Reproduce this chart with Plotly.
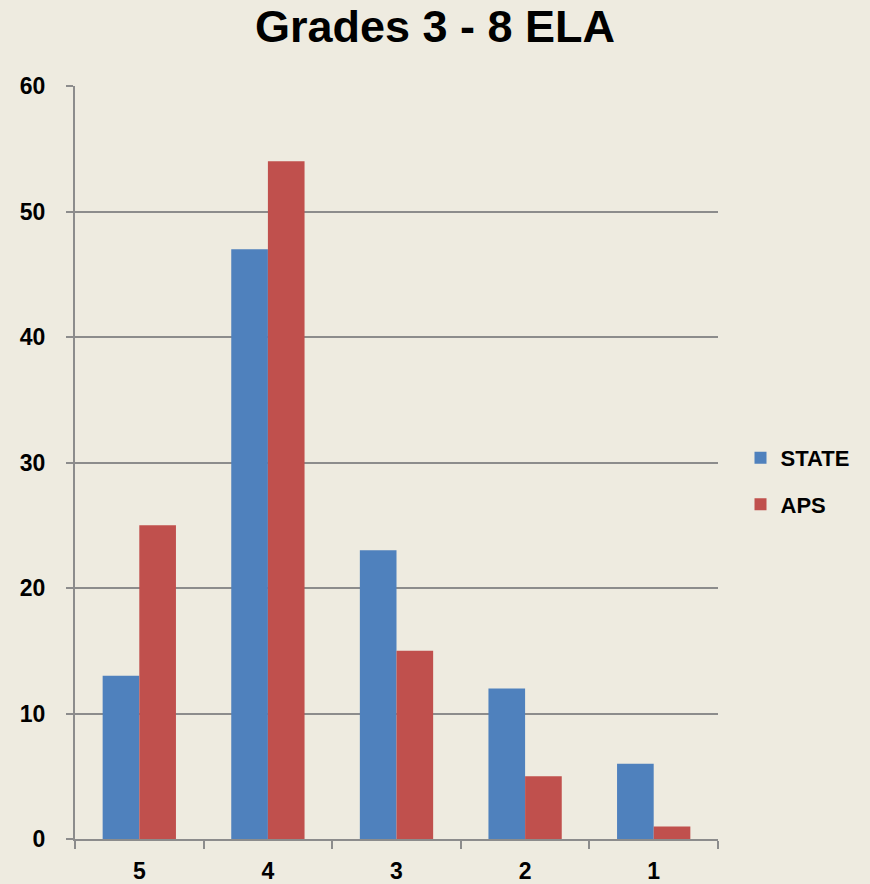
import plotly.graph_objects as go

categories = ["5", "4", "3", "2", "1"]
state_values = [13, 47, 23, 12, 6]
aps_values = [25, 54, 15, 5, 1]
y_ticks = [0, 10, 20, 30, 40, 50, 60]

BG = "#EEEBE0"
GRID = "#8C8C8C"

fig = go.Figure()
fig.add_trace(go.Bar(name="STATE", x=categories, y=state_values,
                     marker=dict(color="#4F81BD", line=dict(width=0)),
                     legendgroup="a"))
fig.add_trace(go.Bar(name="APS", x=categories, y=aps_values,
                     marker=dict(color="#C0504D", line=dict(width=0)),
                     legendgroup="b"))

fig.update_layout(
    width=870, height=884,
    paper_bgcolor=BG, plot_bgcolor=BG,
    margin=dict(l=75, r=152, t=86, b=45, autoexpand=False),
    barmode="group", bargap=0.43, bargroupgap=0,
    title=dict(text="<b>Grades 3 - 8 ELA</b>", x=0.5, xanchor="center",
               y=0.97, yanchor="middle",
               font=dict(family="Liberation Sans, Arial", size=45, color="black")),
    font=dict(family="Liberation Sans, Arial", color="black"),
    legend=dict(x=1.035, xanchor="left", y=0.475, yanchor="middle",
                font=dict(size=22, family="Liberation Sans, Arial", color="black", weight="bold"),
                tracegroupgap=15, bgcolor="rgba(0,0,0,0)",
                itemclick=False),
    showlegend=True,
)
fig.update_yaxes(range=[0, 60], tickvals=y_ticks, showgrid=True, gridcolor=GRID, gridwidth=2,
                 zeroline=False, showline=True, linecolor=GRID, linewidth=2,
                 ticks="outside", ticklen=7, tickcolor=GRID, tickwidth=2,
                 tickfont=dict(size=23, color="black", weight="bold"), ticklabelstandoff=16,
                 automargin=False)
fig.update_xaxes(type="category", showline=True, linecolor=GRID, linewidth=2,
                 ticks="outside", tickson="boundaries", ticklen=8, tickcolor=GRID, tickwidth=2,
                 tickfont=dict(size=23, color="black", weight="bold"), showgrid=False,
                 ticklabelstandoff=10, automargin=False)

fig.write_html("out.html", config={"displayModeBar": False},
               post_script="document.body.style.margin='0';document.body.style.background='#EEEBE0';")
